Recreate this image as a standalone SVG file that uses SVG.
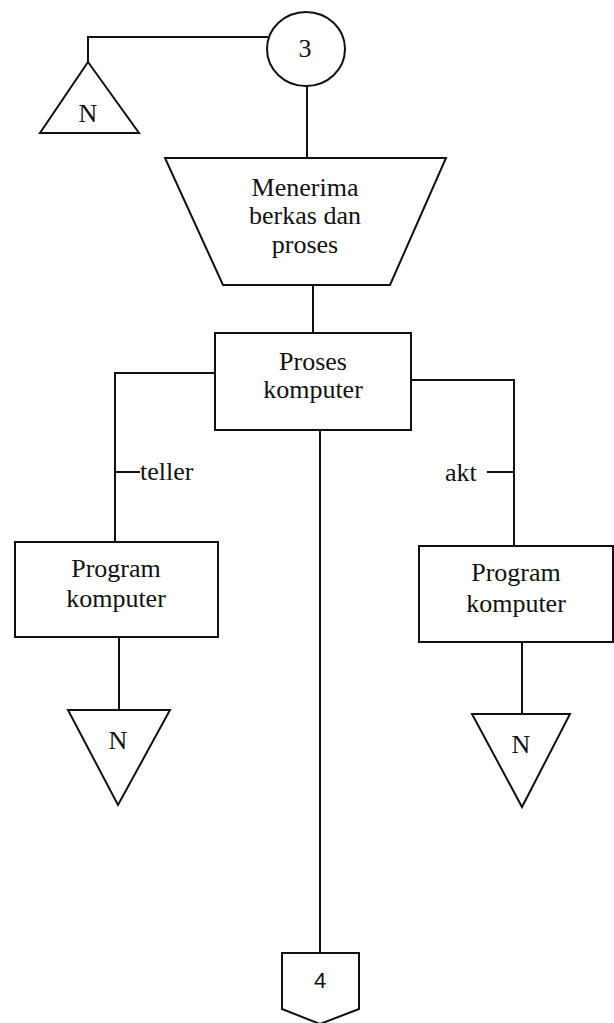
<svg xmlns="http://www.w3.org/2000/svg" width="614" height="1023" viewBox="0 0 614 1023">
  <style>
    .shape { fill: #ffffff; stroke: #111111; stroke-width: 2; stroke-linejoin: miter; }
    .wire { fill: none; stroke: #111111; stroke-width: 2; }
    .lbl { font-family: "Liberation Serif", "Times New Roman", serif; font-size: 26px; fill: #111111; text-anchor: middle; }
    .tag { font-family: "Liberation Serif", "Times New Roman", serif; font-size: 26px; fill: #111111; }
    .sans { font-family: "Liberation Sans", Arial, sans-serif; font-size: 22px; fill: #111111; text-anchor: middle; }
  </style>
  <rect width="614" height="1023" fill="#ffffff"/>

  <!-- connectors -->
  <g id="connectors">
    <polyline class="wire" points="268,37 88,37 88,62"/>
    <line class="wire" x1="307" y1="86" x2="307" y2="158"/>
    <line class="wire" x1="313" y1="285" x2="313" y2="333"/>
    <polyline class="wire" points="215,373 115,373 115,542"/>
    <line class="wire" x1="115" y1="472" x2="140" y2="472"/>
    <polyline class="wire" points="411,380 514,380 514,546"/>
    <line class="wire" x1="487" y1="472" x2="514" y2="472"/>
    <line class="wire" x1="320" y1="430" x2="320" y2="953"/>
    <line class="wire" x1="119" y1="637" x2="119" y2="710"/>
    <line class="wire" x1="522" y1="642" x2="522" y2="714"/>
    <text class="tag" x="140" y="480">teller</text>
    <text class="tag" x="445" y="481">akt</text>
  </g>

  <!-- on-page connector 3 -->
  <g id="conn3">
    <ellipse class="shape" cx="306" cy="49" rx="39" ry="37"/>
    <text class="lbl" x="305" y="57">3</text>
  </g>

  <!-- archive N (top) -->
  <g id="archiveTop">
    <polygon class="shape" points="88,62 139,133 40,133"/>
    <text class="lbl" x="88" y="122">N</text>
  </g>

  <!-- manual operation -->
  <g id="manual">
    <polygon class="shape" points="165,158 446,158 390,285 223,285"/>
    <text class="lbl" x="305" y="196">Menerima</text>
    <text class="lbl" x="305" y="224">berkas dan</text>
    <text class="lbl" x="305" y="253">proses</text>
  </g>

  <!-- process -->
  <g id="proses">
    <rect class="shape" x="215" y="333" width="196" height="97"/>
    <text class="lbl" x="313" y="370">Proses</text>
    <text class="lbl" x="313" y="398">komputer</text>
  </g>

  <g id="programLeft">
    <rect class="shape" x="15" y="542" width="203" height="95"/>
    <text class="lbl" x="116" y="577">Program</text>
    <text class="lbl" x="116" y="607">komputer</text>
  </g>

  <g id="programRight">
    <rect class="shape" x="419" y="546" width="194" height="96"/>
    <text class="lbl" x="516" y="581">Program</text>
    <text class="lbl" x="516" y="612">komputer</text>
  </g>

  <g id="archiveLeft">
    <polygon class="shape" points="68,710 170,710 118,805"/>
    <text class="lbl" x="118" y="749">N</text>
  </g>

  <g id="archiveRight">
    <polygon class="shape" points="472,714 570,714 522,807"/>
    <text class="lbl" x="521" y="753">N</text>
  </g>

  <!-- off-page connector 4 -->
  <g id="conn4">
    <polygon class="shape" points="282,953 359,953 359,1009 320,1024 282,1009"/>
    <text class="sans" x="320" y="988">4</text>
  </g>
</svg>
